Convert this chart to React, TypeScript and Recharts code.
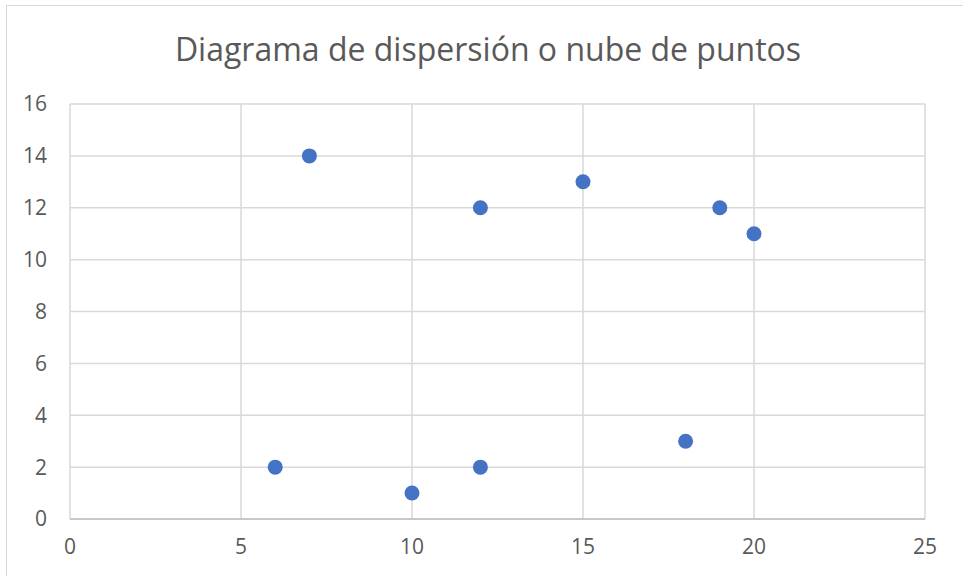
import React from 'react';
import {
  ScatterChart,
  Scatter,
  XAxis,
  YAxis,
  CartesianGrid,
} from "recharts";

const xValues = [6, 7, 10, 12, 12, 15, 18, 19, 20];
const yValues = [2, 14, 1, 12, 2, 13, 3, 12, 11];
const xTicks = [0, 5, 10, 15, 20, 25];
const yTicks = [0, 2, 4, 6, 8, 10, 12, 14, 16];
const title = "Diagrama de dispersión o nube de puntos";

const points = xValues.map((x, i) => ({ x, y: yValues[i] }));

const tickStyle = { fontSize: 21, fill: "#595959", fontFamily: "'Open Sans', sans-serif" };

const Dot = (props: any) => (
  <circle cx={props.cx} cy={props.cy} r={7.5} fill="#4472C4" />
);

export default function App() {
  return (
    <div
      style={{
        position: "absolute",
        left: 0,
        top: 0,
        width: 963,
        height: 576,
        overflow: "hidden",
        background: "#fff",
      }}
    >
      {/* chart frame */}
      <div
        style={{
          position: "absolute",
          left: 6,
          top: 5,
          width: 1000,
          height: 600,
          border: "1px solid #d9d9d9",
        }}
      />
      <div
        style={{
          position: "absolute",
          left: 0,
          top: 26,
          width: 976,
          textAlign: "center",
          fontFamily: "'Open Sans', sans-serif",
          fontSize: 32,
          color: "#595959",
          lineHeight: "46px",
        }}
      >
        {title}
      </div>
      <div style={{ position: "absolute", left: 0, top: 0 }}>
        <ScatterChart
          width={963}
          height={576}
          margin={{ top: 104, right: 38, bottom: 0, left: 10 }}
        >
          <CartesianGrid stroke="#d9d9d9" strokeWidth={1.5} />
          <XAxis
            type="number"
            dataKey="x"
            domain={[0, 25]}
            ticks={xTicks}
            height={57}
            tickLine={false}
            tickSize={0}
            tickMargin={20}
            stroke="#bfbfbf"
            strokeWidth={1.5}
            tick={tickStyle}
          />
          <YAxis
            type="number"
            dataKey="y"
            domain={[0, 16]}
            ticks={yTicks}
            width={60}
            axisLine={false}
            tickLine={false}
            tickSize={0}
            tickMargin={23}
            tick={tickStyle}
          />
          <Scatter data={points} shape={Dot} isAnimationActive={false} />
        </ScatterChart>
      </div>
    </div>
  );
}
